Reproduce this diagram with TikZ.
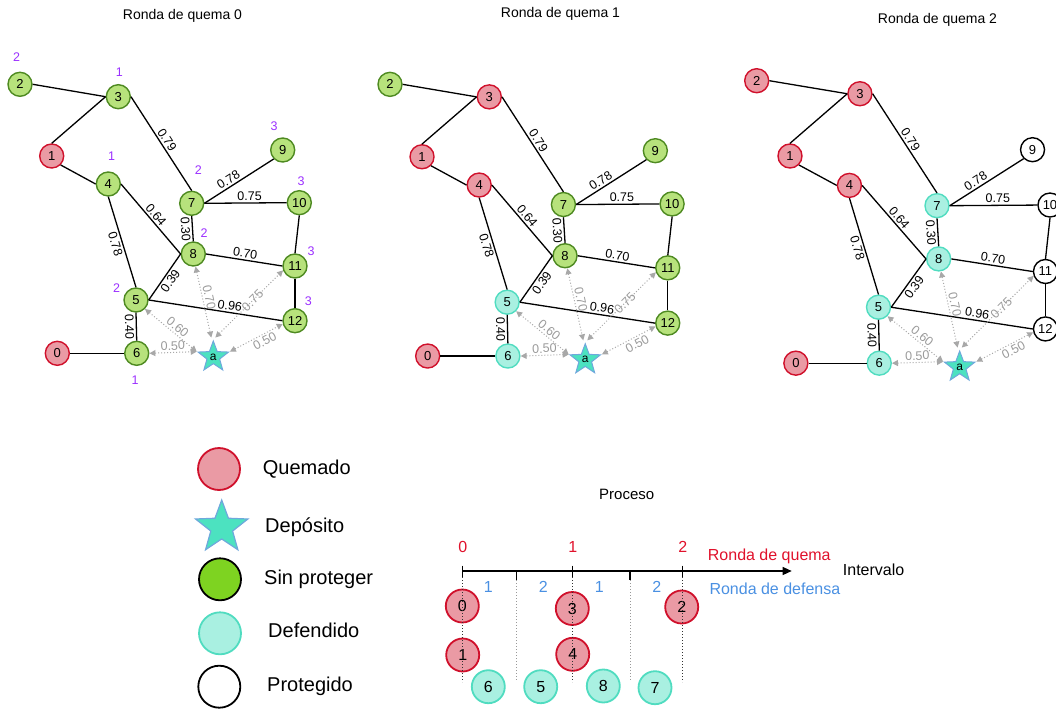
\documentclass[tikz,border=0pt]{standalone}
\usepackage{fontspec}
\setmainfont{Liberation Sans}
\usetikzlibrary{shapes.geometric,arrows.meta,calc}

\definecolor{burnfill}{HTML}{EA9AA4}
\definecolor{burnline}{HTML}{D0102B}
\definecolor{greenfill}{HTML}{B7E27C}
\definecolor{greenline}{HTML}{4E8A21}
\definecolor{legendgreen}{HTML}{7ED321}
\definecolor{deffill}{HTML}{A9F0E1}
\definecolor{defline}{HTML}{50DCC0}
\definecolor{starfill}{HTML}{4CE2C0}
\definecolor{starline}{HTML}{6FA8DC}
\definecolor{lvlpurple}{HTML}{9B30FF}
\definecolor{arrowgray}{HTML}{A8A8A8}
\definecolor{labgray}{HTML}{9A9A9A}
\definecolor{redtext}{HTML}{E0112B}
\definecolor{bluetext}{HTML}{4A90E2}

\newcommand{\fs}[1]{\fontsize{#1}{#1}\selectfont}

% One fire graph; the look of vertex k is given by the style stk
\newcommand{\firegraph}{%
  \node[st0]  (n0)  at (57.3,353.3) {0};
  \node[st1]  (n1)  at (51.7,156)   {1};
  \node[st2]  (n2)  at (20,84.3)    {2};
  \node[st3]  (n3)  at (118.3,96.7) {3};
  \node[st4]  (n4)  at (108.3,184)  {4};
  \node[st5]  (n5)  at (136,300)    {5};
  \node[st6]  (n6)  at (136.7,353.3){6};
  \node[st7]  (n7)  at (191.7,203.3){7};
  \node[st8]  (n8)  at (193.3,254)  {8};
  \node[st9]  (n9)  at (282.7,150)  {9};
  \node[st10] (n10) at (299.3,202.7){10};
  \node[st11] (n11) at (295,266)    {11};
  \node[st12] (n12) at (295,320.7)  {12};
  \node[depot] (a) at (213.3,357) {a};
  % weighted links
  \draw[link] (n2.east) -- (n3.west);
  \draw[link] (n1.north) -- (n3.west);
  \draw[link] (n1.south east) -- (n4.west);
  \draw[link] (n3.east) -- node[wlab, above]{0.79} (n7.north);
  \draw[link] (n7.east) -- node[wlab, above, pos=0.4]{0.78} (n9.south west);
  \draw[link] (n7.east) -- node[wlab, above, pos=0.55]{0.75} (n10.west);
  \draw[link] (n4.east) -- node[wlab, above]{0.64} (n8.west);
  \draw[link] (n7.south) -- node[wlab, below]{0.30} (n8.north);
  \draw[link] (n4.south) -- node[wlab, below]{0.78} (n5.north);
  \draw[link] (n8.east) -- node[wlab, above]{0.70} (n11.west);
  \draw[link] (n5.east) -- node[wlab, below]{0.39} (n8.west);
  \draw[link] (n5.east) -- node[wlab, above, pos=0.6]{0.96} (n12.west);
  \draw[link] (n5.south) -- node[wlab, below]{0.40} (n6.north);
  \draw[link] (n10.south) -- (n11.north);
  \draw[link] (n11.south) -- (n12.north);
  \draw[link] (n0.east) -- (n6.west);
  % distances from the depot
  \draw[reach] (n8.280) -- node[glab, above, pos=0.45]{0.70} ([xshift=-2pt,yshift=2pt]a.outer point 1);
  \draw[reach] ([xshift=2pt,yshift=2pt]a.outer point 1) -- node[glab, pos=0.55]{0.75} (n11.200);
  \draw[reach] (n5.-45) -- node[glab, above, pos=0.55]{0.60} (a.outer point 2);
  \draw[reach] (n6.east) -- node[glab, above]{0.50} (a.outer point 2);
  \draw[reach] (a.outer point 5) -- node[glab, below, pos=0.6]{0.50} (n12.195);
}

\begin{document}
\begin{tikzpicture}[x=1pt, y=-1pt,
  vert/.style={circle, draw, line width=1.4pt, minimum size=24pt, inner sep=0pt, font=\fs{13}},
  burntnode/.style={vert, fill=burnfill, draw=burnline},
  opennode/.style={vert, fill=greenfill, draw=greenline},
  defnode/.style={vert, fill=deffill, draw=defline},
  safenode/.style={vert, fill=white, draw=black},
  depot/.style={star, star points=5, star point ratio=2.4, minimum size=32pt, inner sep=0pt,
    fill=starfill, draw=starline, line width=1pt, font=\fs{12}},
  link/.style={line width=1.3pt, black},
  reach/.style={draw=arrowgray, dotted, line width=1pt,
    {Triangle[length=6pt,width=6pt]}-{Triangle[length=6pt,width=6pt]}},
  wlab/.style={font=\fs{12.5}, inner sep=1.8pt, sloped},
  glab/.style={wlab, text=labgray},
  lvl/.style={text=lvlpurple, font=\fs{12.5}, inner sep=0pt},
  title/.style={font=\fs{14}},
  legcirc/.style={circle, minimum size=42pt, inner sep=0pt, line width=1.8pt},
  legtext/.style={font=\fs{20}, anchor=west, inner sep=0pt},
  pcirc/.style={circle, minimum size=33pt, inner sep=0pt, line width=1.8pt, font=\fs{16}},
  pburn/.style={pcirc, fill=burnfill, draw=burnline},
  pdef/.style={pcirc, fill=deffill, draw=defline},
  ptext/.style={font=\fs{16}, inner sep=0pt},
]
\useasboundingbox (0,0) rectangle (1056,711);
\clip (0,0) rectangle (1056,711);

% ---------- round titles ----------
\node[title] (t0) at (182.5,16) {Ronda de quema 0};
\node[title] (t1) at (560.5,14) {Ronda de quema 1};
\node[title] (t2) at (937.5,20) {Ronda de quema 2};

% ---------- round 0 ----------
\begin{scope}[name prefix=g0-,
  st0/.style=burntnode, st1/.style=burntnode, st2/.style=opennode, st3/.style=opennode,
  st4/.style=opennode, st5/.style=opennode, st6/.style=opennode, st7/.style=opennode,
  st8/.style=opennode, st9/.style=opennode, st10/.style=opennode, st11/.style=opennode,
  st12/.style=opennode]
  \firegraph
  \node[lvl] (l2)  at (16.7,56.7)  {2};
  \node[lvl] (l3)  at (119.3,72.7) {1};
  \node[lvl] (l9)  at (274,126)    {3};
  \node[lvl] (l4)  at (111.7,156)  {1};
  \node[lvl] (l7)  at (198.3,170)  {2};
  \node[lvl] (l10) at (301,180.7)  {3};
  \node[lvl] (l8)  at (204,233.3)  {2};
  \node[lvl] (l11) at (311,250.7)  {3};
  \node[lvl] (l5)  at (116.7,288.3){2};
  \node[lvl] (l12) at (308.3,301)  {3};
  \node[lvl] (l6)  at (135,380)    {1};
\end{scope}

% ---------- round 1 ----------
\begin{scope}[name prefix=g1-, shift={(369.8,-0.8)}, scale=1.01,
  st0/.style=burntnode, st1/.style=burntnode, st2/.style=opennode, st3/.style=burntnode,
  st4/.style=burntnode, st5/.style=defnode, st6/.style=defnode, st7/.style=opennode,
  st8/.style=opennode, st9/.style=opennode, st10/.style=opennode, st11/.style=opennode,
  st12/.style=opennode]
  \firegraph
\end{scope}

% ---------- round 2 ----------
\begin{scope}[name prefix=g2-, shift={(735.7,-7.8)}, scale=1.05,
  st0/.style=burntnode, st1/.style=burntnode, st2/.style=burntnode, st3/.style=burntnode,
  st4/.style=burntnode, st5/.style=defnode, st6/.style=defnode, st7/.style=defnode,
  st8/.style=defnode, st9/.style=safenode, st10/.style=safenode, st11/.style=safenode,
  st12/.style=safenode]
  \firegraph
\end{scope}

% ---------- legend ----------
\node[legcirc, fill=burnfill, draw=burnline] (kb) at (219,469) {};
\node[star, star points=5, star point ratio=2.4, minimum size=55pt, inner sep=0pt,
  fill=starfill, draw=starline, line width=1.2pt] (ks) at (221.7,527.5) {};
\node[legcirc, fill=legendgreen, draw=black] (kg) at (220,579.3) {};
\node[legcirc, fill=deffill, draw=defline] (kd) at (220,633.3) {};
\node[legcirc, fill=white, draw=black] (kp) at (219.3,686.7) {};
\node[legtext] (kbt) at (262.7,469) {Quemado};
\node[legtext] (kst) at (265,527) {Depósito};
\node[legtext] (kgt) at (264,579) {Sin proteger};
\node[legtext] (kdt) at (268,630) {Defendido};
\node[legtext] (kpt) at (267,686) {Protegido};

% ---------- process timeline ----------
\node[font=\fs{15}] (proc) at (626.7,494) {Proceso};
\coordinate (x0) at (462.3,571);
\coordinate (xe) at (791.7,571);
\draw[line width=1.2pt, -{Triangle[length=9pt,width=8pt]}] (x0) -- (xe);
\foreach \x/\n in {462.3/0, 572.3/1, 682.3/2} {
  \draw[line width=1.2pt] (\x,565.7) -- (\x,576.7);
  \node[ptext, text=redtext] (b\n) at (\x+0.5,547) {\n};
}
\foreach \x in {516.7, 630} {
  \draw[line width=1.2pt] (\x,571) -- (\x,580);
}
\foreach \x/\n/\k in {488.3/1/a, 543.3/2/b, 599.3/1/c, 656.7/2/d} {
  \node[ptext, text=bluetext] (d\k) at (\x,586.5) {\n};
}
\node[ptext, text=redtext, anchor=west] (rq) at (707.7,556) {Ronda de quema};
\node[ptext, anchor=west] (iv) at (842.7,569.3) {Intervalo};
\node[ptext, text=bluetext, anchor=west] (rd) at (709.3,588.3) {Ronda de defensa};

\node[pburn] (p0) at (462.3,606)   {0};
\node[pburn] (p1) at (462.7,655)   {1};
\node[pburn] (p3) at (572.3,608.5) {3};
\node[pburn] (p4) at (572.7,654.3) {4};
\node[pburn] (p2) at (681.7,607)   {2};
\node[pdef]  (p6) at (488.3,686.7) {6};
\node[pdef]  (p5) at (540.7,686.7) {5};
\node[pdef]  (p8) at (603.3,686)   {8};
\node[pdef]  (p7) at (655,687.7)   {7};

% round separators
\foreach \x in {462.3, 572.3, 682.3}
  \draw[black!80, dotted, line width=1pt] (\x,577) -- (\x,682);
\foreach \x in {516.7, 630}
  \draw[black!40, dotted, line width=1pt] (\x,580) -- (\x,681);
\end{tikzpicture}
\end{document}
